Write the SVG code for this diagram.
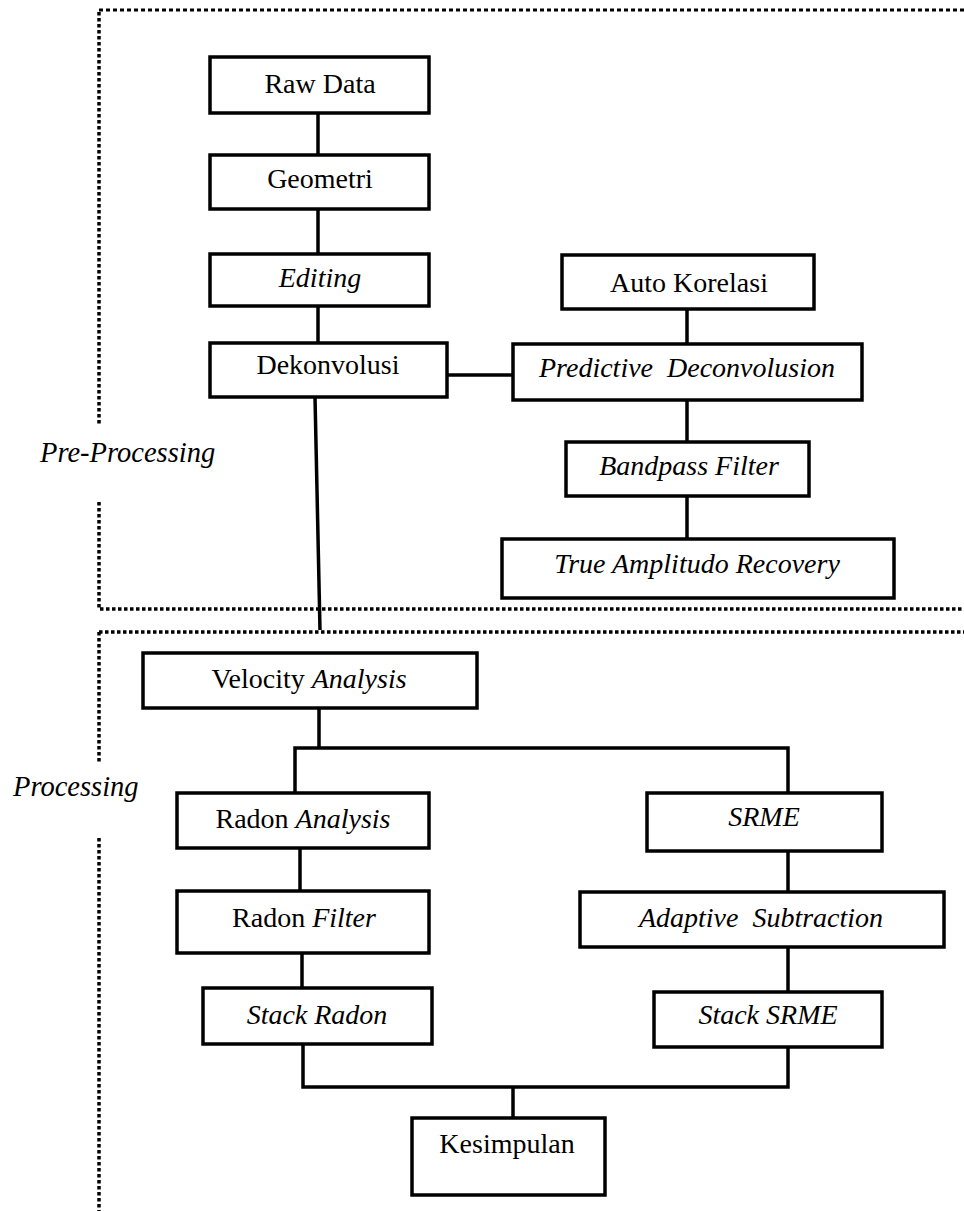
<svg xmlns="http://www.w3.org/2000/svg" width="964" height="1211" viewBox="0 0 964 1211">
<style>
.box{fill:#fff;stroke:#000;stroke-width:3.5}
.t{font-family:"Liberation Serif","Times New Roman",serif;font-size:28px;fill:#000;text-anchor:middle}
.i{font-style:italic}
.lbl{font-family:"Liberation Serif","Times New Roman",serif;font-size:28.5px;font-style:italic;fill:#000}
.con{fill:none;stroke:#000;stroke-width:3.5;stroke-linejoin:miter}
.dotA{fill:none;stroke:#000;stroke-width:3;stroke-dasharray:4 3}
.dotB{fill:none;stroke:#000;stroke-width:3.5;stroke-dasharray:3.5 2.5}
</style>
<rect width="964" height="1211" fill="#fff"/>
<g id="borders">
<path class="dotA" d="M99 10 H964"/>
<path class="dotB" d="M99 12 V425 M99 502 V609 H964"/>
<path class="dotB" d="M99 632 H964 M99 632 V762 M99 838 V1211"/>
</g>
<g id="connectors">
<path class="con" d="M318 113 V155"/>
<path class="con" d="M318 209 V254"/>
<path class="con" d="M318 306 V343"/>
<path class="con" d="M447 375 H513"/>
<path class="con" d="M687 309 V344"/>
<path class="con" d="M687 400 V442"/>
<path class="con" d="M687 496 V539"/>
<path class="con" d="M315 397 L320 630"/>
<path class="con" d="M319 708 V748 M295 793 V748 H788 V793"/>
<path class="con" d="M300 848 V891"/>
<path class="con" d="M302 953 V988"/>
<path class="con" d="M788 851 V892"/>
<path class="con" d="M788 947 V992"/>
<path class="con" d="M303 1044 V1087 H788 V1047"/>
<path class="con" d="M513 1087 V1118"/>
</g>
<g id="raw-data"><rect class="box" x="210" y="57" width="219" height="56"/><text class="t" x="320" y="93">Raw Data</text></g>
<g id="geometri"><rect class="box" x="210" y="155" width="219" height="54"/><text class="t" x="320" y="188">Geometri</text></g>
<g id="editing"><rect class="box" x="210" y="254" width="219" height="52"/><text class="t i" x="320" y="287">Editing</text></g>
<g id="dekonvolusi"><rect class="box" x="210" y="343" width="237" height="54"/><text class="t" x="328" y="374">Dekonvolusi</text></g>
<g id="auto-korelasi"><rect class="box" x="562" y="255" width="252" height="54"/><text class="t" x="689" y="292">Auto Korelasi</text></g>
<g id="predictive-deconvolution"><rect class="box" x="513" y="344" width="349" height="56"/><text class="t i" x="687" y="377" xml:space="preserve">Predictive  Deconvolusion</text></g>
<g id="bandpass-filter"><rect class="box" x="566" y="442" width="243" height="54"/><text class="t i" x="689" y="475">Bandpass Filter</text></g>
<g id="true-amplitudo-recovery"><rect class="box" x="502" y="539" width="392" height="59"/><text class="t i" x="697" y="573">True Amplitudo Recovery</text></g>
<g id="velocity-analysis"><rect class="box" x="143" y="653" width="334" height="55"/><text class="t" x="309" y="688">Velocity <tspan class="i">Analysis</tspan></text></g>
<g id="radon-analysis"><rect class="box" x="177" y="793" width="252" height="55"/><text class="t" x="303" y="828">Radon <tspan class="i">Analysis</tspan></text></g>
<g id="radon-filter"><rect class="box" x="177" y="891" width="252" height="62"/><text class="t" x="304" y="927">Radon <tspan class="i">Filter</tspan></text></g>
<g id="stack-radon"><rect class="box" x="203" y="988" width="229" height="56"/><text class="t i" x="317" y="1024">Stack Radon</text></g>
<g id="srme"><rect class="box" x="647" y="793" width="235" height="58"/><text class="t i" x="764" y="826">SRME</text></g>
<g id="adaptive-subtraction"><rect class="box" x="580" y="892" width="364" height="55"/><text class="t i" x="761" y="927" xml:space="preserve">Adaptive  Subtraction</text></g>
<g id="stack-srme"><rect class="box" x="654" y="992" width="228" height="55"/><text class="t i" x="768" y="1024">Stack SRME</text></g>
<g id="kesimpulan"><rect class="box" x="412" y="1118" width="193" height="77"/><text class="t" x="507" y="1153">Kesimpulan</text></g>
<g id="labels">
<text class="lbl" x="40" y="462">Pre-Processing</text>
<text class="lbl" x="13" y="796">Processing</text>
</g>
</svg>
